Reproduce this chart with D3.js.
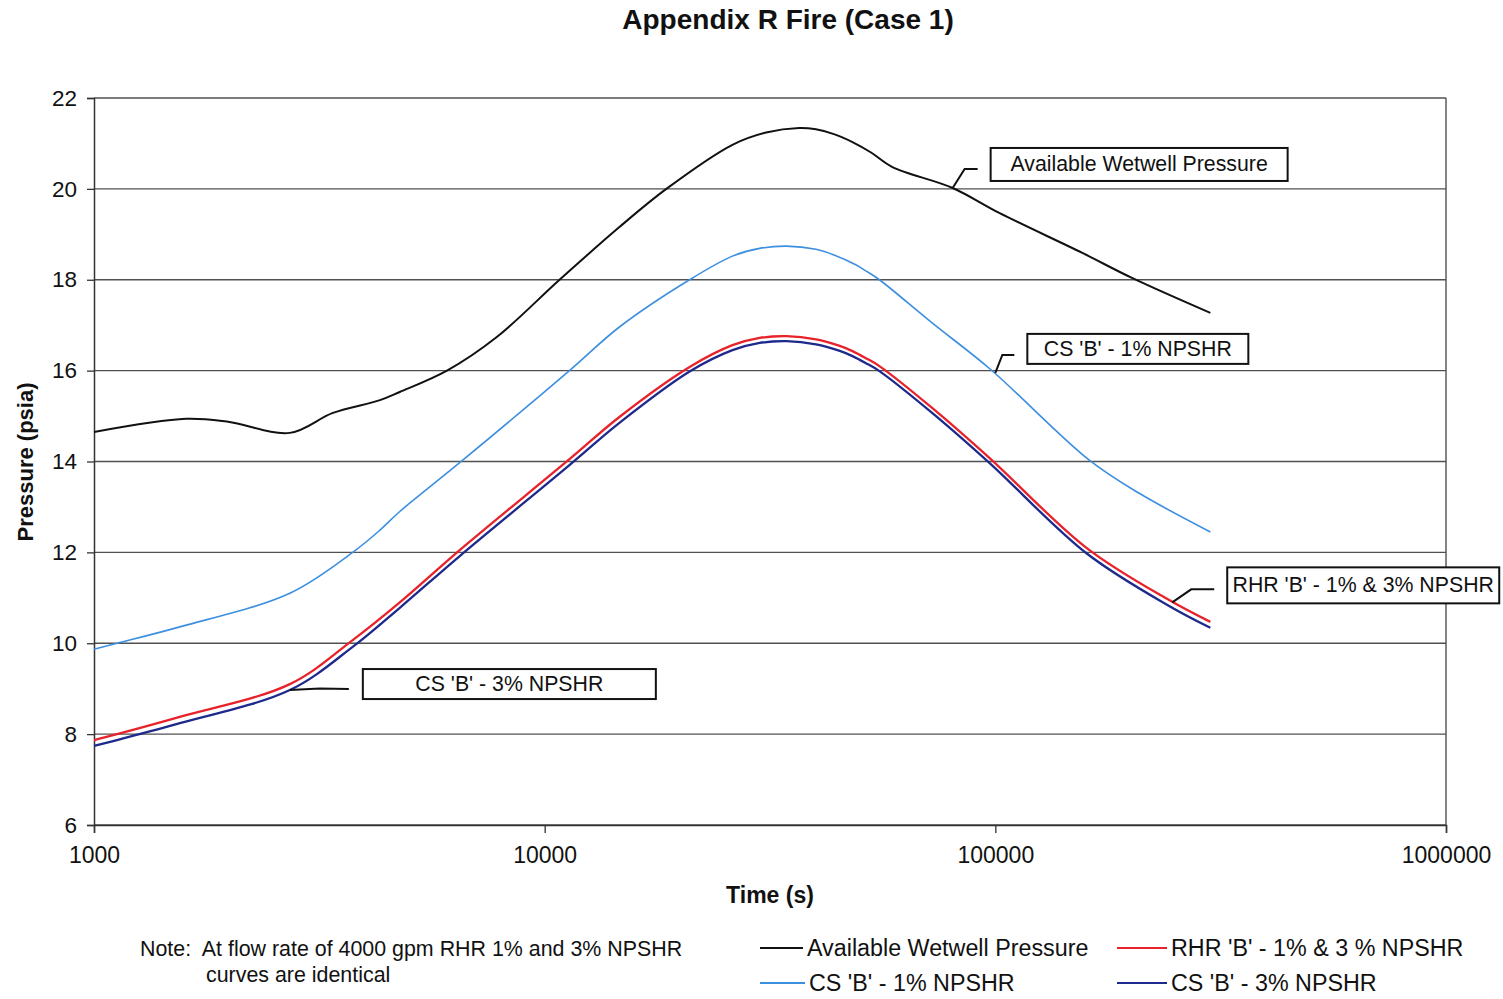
<!DOCTYPE html>
<html>
<head>
<meta charset="utf-8">
<script src="https://cdn.jsdelivr.net/npm/d3@7"></script>
<style>
  body { margin: 0; background: #fff; }
  svg text { font-family: "Liberation Sans", Arial, sans-serif; fill: #111; white-space: pre; }
</style>
</head>
<body>
<div id="box"></div>
<script>
// values
var xTicks = [1000, 10000, 100000, 1000000];
var yTicks = [6, 8, 10, 12, 14, 16, 18, 20, 22];

var wetwellT = [1000, 1600, 1970, 2720, 3390, 4310, 4770, 6070, 7830, 10790, 14650, 18620, 26100, 31000, 36700, 40000, 44000, 48200, 53000, 59100, 80400, 102000, 156000, 201000, 300000];
var wetwellP = [14.65, 14.94, 14.88, 14.63, 15.07, 15.35, 15.53, 16.0, 16.74, 18.0, 19.16, 20.0, 20.97, 21.24, 21.34, 21.31, 21.2, 21.03, 20.8, 20.48, 20.02, 19.47, 18.59, 18.04, 17.27];

var cs1T = [1000, 1125, 1550, 2720, 3750, 4310, 4770, 6580, 11350, 14650, 20970, 26100, 30000, 34400, 40000, 44000, 49000, 51500, 55300, 72400, 97500, 161600, 208600, 300000];
var cs1P = [9.87, 10.0, 10.36, 11.1, 12.0, 12.49, 12.9, 14.03, 16.0, 16.96, 18.0, 18.52, 18.69, 18.74, 18.67, 18.54, 18.33, 18.2, 18.0, 17.05, 16.03, 14.03, 13.3, 12.45];

var rhrT = [1000, 1125, 1550, 2720, 3750, 4770, 6480, 11350, 14650, 20970, 26100, 30000, 34400, 40000, 45000, 48200, 51500, 55300, 72400, 97000, 159300, 243000, 300000];
var rhrP = [7.87, 8.0, 8.38, 9.1, 10.07, 10.9, 12.05, 14.05, 14.98, 16.08, 16.56, 16.72, 16.76, 16.69, 16.55, 16.43, 16.28, 16.1, 15.18, 14.08, 12.1, 10.95, 10.47];

var cs3T = [1000, 1125, 1550, 2720, 3750, 4770, 6480, 11350, 14650, 20970, 26100, 30000, 34400, 40000, 45000, 48200, 51500, 55300, 72400, 97000, 159300, 243000, 300000];
var cs3P = [7.74, 7.87, 8.24, 8.97, 9.92, 10.78, 11.92, 13.92, 14.85, 15.98, 16.45, 16.61, 16.65, 16.58, 16.44, 16.32, 16.17, 15.99, 15.07, 13.97, 11.98, 10.82, 10.34];

var seriesNames = ["Available Wetwell Pressure", "CS 'B' - 1% NPSHR", "RHR 'B' - 1% & 3 % NPSHR", "CS 'B' - 3% NPSHR"];
var seriesColors = ["#111111", "#3d8fe0", "#e8222a", "#1d2a8c"];

(function() {
  var width = 1503, height = 999;
  var pLeft = 94, pRight = 1446, pTop = 98, pBottom = 825;

  var svg = d3.select("#box").append("svg")
    .attr("width", width)
    .attr("height", height);

  var x = d3.scaleLog().domain([1000, 1000000]).range([pLeft, pRight]);
  var y = d3.scaleLinear().domain([6, 22]).range([pBottom, pTop]);

  // title
  svg.append("text")
    .attr("x", 788).attr("y", 29)
    .attr("text-anchor", "middle")
    .style("font-size", "28px").style("font-weight", "bold")
    .text("Appendix R Fire (Case 1)");

  // grid lines
  svg.append("g").selectAll("line")
    .data(yTicks)
    .enter().append("line")
    .attr("x1", pLeft).attr("x2", pRight)
    .attr("y1", function(d) { return y(d); })
    .attr("y2", function(d) { return y(d); })
    .attr("stroke", "#505050").attr("stroke-width", 1.4);

  // frame on the right
  svg.append("line")
    .attr("x1", pRight).attr("x2", pRight).attr("y1", pTop).attr("y2", pBottom)
    .attr("stroke", "#505050").attr("stroke-width", 1.4);

  // axes
  var yAxis = d3.axisLeft(y).tickValues(yTicks).tickSize(7).tickPadding(10).tickFormat(d3.format("d"));
  var gy = svg.append("g").attr("transform", "translate(" + pLeft + ",0)").call(yAxis);
  gy.select(".domain").attr("stroke", "#333").attr("stroke-width", 1.5);
  gy.selectAll(".tick line").attr("stroke", "#333").attr("stroke-width", 1.3);
  gy.selectAll(".tick text").style("font-size", "22.5px").attr("fill", "#111");

  var xAxis = d3.axisBottom(x).tickValues(xTicks).tickSize(8).tickPadding(14).tickFormat(d3.format("d"));
  var gx = svg.append("g").attr("transform", "translate(0," + pBottom + ")").call(xAxis);
  gx.select(".domain").attr("stroke", "#333").attr("stroke-width", 1.5);
  gx.selectAll(".tick line").attr("stroke", "#333").attr("stroke-width", 1.3);
  gx.selectAll(".tick text").style("font-size", "23px").attr("fill", "#111");

  // axis titles
  svg.append("text")
    .attr("x", 770).attr("y", 903)
    .attr("text-anchor", "middle")
    .style("font-size", "23px").style("font-weight", "bold")
    .text("Time (s)");

  svg.append("text")
    .attr("transform", "translate(33,462) rotate(-90)")
    .attr("text-anchor", "middle")
    .style("font-size", "22px").style("font-weight", "bold")
    .text("Pressure (psia)");

  // curves (smoothed like the spreadsheet original)
  var line = d3.line()
    .x(function(d) { return x(d[0]); })
    .y(function(d) { return y(d[1]); })
    .curve(d3.curveCatmullRom.alpha(0.5));

  var allT = [wetwellT, cs1T, rhrT, cs3T];
  var allP = [wetwellP, cs1P, rhrP, cs3P];
  var widths = [2, 1.6, 2.3, 2.3];

  for (var i = 0; i < 4; i++) {
    var pts = d3.zip(allT[i], allP[i]);
    svg.append("path")
      .datum(pts)
      .attr("d", line)
      .attr("fill", "none")
      .attr("stroke", seriesColors[i])
      .attr("stroke-width", widths[i]);
  }

  // callout boxes, each tied to a point on its curve
  var callouts = [
    { t: 80400, p: 20.02, text: "Available Wetwell Pressure", path: [[12, -19], [25, -19]], box: [38, -40, 297, 33] },
    { t: 100000, p: 15.95, text: "CS 'B' - 1% NPSHR", path: [[7, -18], [19, -18]], box: [32, -39, 221, 30] },
    { t: 246900, p: 10.9, text: "RHR 'B' - 1% & 3% NPSHR", path: [[19, -13], [42, -13]], box: [55, -35, 272, 36] },
    { t: 2720, p: 8.97, text: "CS 'B' - 3% NPSHR", path: [[30, -1.5], [59, -1]], box: [73, -21, 293, 30] }
  ];

  callouts.forEach(function(c) {
    var ax = x(c.t), ay = y(c.p);
    var pts = [[ax, ay]].concat(c.path.map(function(o) { return [ax + o[0], ay + o[1]]; }));
    svg.append("path")
      .attr("d", d3.line()(pts))
      .attr("fill", "none")
      .attr("stroke", "#111")
      .attr("stroke-width", 2);
    svg.append("rect")
      .attr("x", ax + c.box[0]).attr("y", ay + c.box[1])
      .attr("width", c.box[2]).attr("height", c.box[3])
      .attr("fill", "#fff").attr("stroke", "#111").attr("stroke-width", 2);
    svg.append("text")
      .attr("x", ax + c.box[0] + c.box[2] / 2)
      .attr("y", ay + c.box[1] + c.box[3] / 2 + 7)
      .attr("text-anchor", "middle")
      .style("font-size", "21.3px")
      .text(c.text);
  });

  // note
  svg.append("text").attr("x", 140).attr("y", 956).style("font-size", "21.4px")
    .text("Note:  At flow rate of 4000 gpm RHR 1% and 3% NPSHR");
  svg.append("text").attr("x", 206).attr("y", 982).style("font-size", "21.4px")
    .text("curves are identical");

  // legend
  var legendPos = [[760, 948], [760, 983], [1117, 948], [1117, 983]];
  var legendLen = [43, 45, 50, 50];
  var legend = svg.append("g");
  for (var j = 0; j < 4; j++) {
    var lp = legendPos[j];
    legend.append("line")
      .attr("x1", lp[0]).attr("x2", lp[0] + legendLen[j])
      .attr("y1", lp[1]).attr("y2", lp[1])
      .attr("stroke", seriesColors[j]).attr("stroke-width", 2);
    legend.append("text")
      .attr("x", lp[0] + legendLen[j] + 4).attr("y", lp[1] + 8)
      .style("font-size", "23.3px")
      .text(seriesNames[j]);
  }
})();
</script>
</body>
</html>
